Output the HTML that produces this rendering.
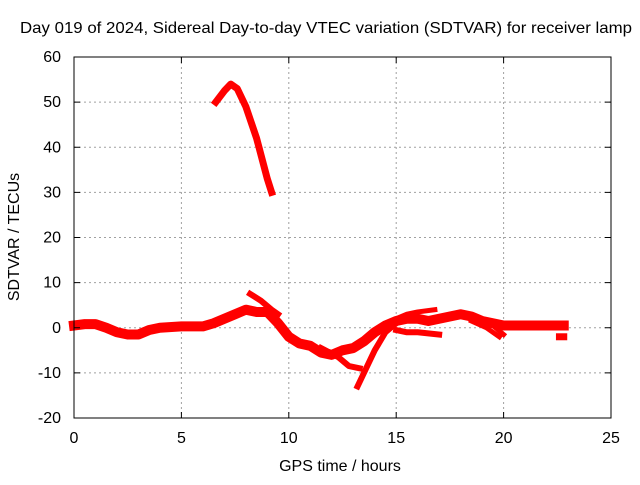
<!DOCTYPE html>
<html><head><meta charset="utf-8"><style>
body{margin:0;background:#fff;}
svg text{font-family:"Liberation Sans",sans-serif;font-size:16px;fill:#000;}
</style></head><body>
<svg id="chart" width="640" height="480" viewBox="0 0 640 480">
<rect width="640" height="480" fill="#fff"/>
<text x="20" y="33" textLength="612" lengthAdjust="spacingAndGlyphs">Day 019 of 2024, Sidereal Day-to-day VTEC variation (SDTVAR) for receiver lamp</text>
<g id="grid"></g>
<g id="series"></g>
<rect x="74" y="57" width="537" height="361" fill="none" stroke="#000" stroke-width="1"/>
<g id="ticks"></g>
<text x="340" y="471" text-anchor="middle">GPS time / hours</text>
<text transform="translate(19,237) rotate(-90)" text-anchor="middle">SDTVAR / TECUs</text>
</svg>
<script>
const xTicks=[0,5,10,15,20,25];
const yTicks=[-20,-10,0,10,20,30,40,50,60];
const mainT=[0,0.5,1,1.5,2,2.5,3,3.5,4,5,6,6.5,7,7.5,8,8.5,9,9.5,10,10.5,11,11.5,12,12.5,13,13.5,14,14.5,15,15.5,16,16.5,17,17.5,18,18.5,19,19.5,20,21,22,22.8];
const mainV=[0.5,0.8,0.8,0,-1,-1.5,-1.5,-0.5,0,0.3,0.3,1,2,3,4,3.5,3.5,1,-2,-3.5,-4,-5.5,-6,-5,-4.5,-3,-1,0.5,1.5,2,2,1.5,2,2.5,3,2.5,1.5,1,0.5,0.5,0.5,0.5];
const arcT=[6.6,7,7.3,7.6,8,8.5,9,9.2];
const arcV=[50,52.5,54,53,49,42,33,30];
const spikeT=[8.2,8.7,9.2,9.5];
const spikeV=[7.5,6,4,3];
const loopT=[11.5,12.3,12.8,13.3];
const loopV=[-4.5,-6.5,-8.5,-9];
const riseT=[13.2,13.5,14,14.5,15];
const riseV=[-13,-10,-5,-1,1];
const branchT=[15,15.5,16,16.8];
const branchV=[2,3,3.5,4];
const lowT=[15,15.5,16,17];
const lowV=[-0.5,-1,-1,-1.5];
const dropT=[18.5,19.2,19.8];
const dropV=[1.5,0,-2];
const dropT2=[19.5,20];
const dropV2=[0.5,-1.5];
const dotT=[22.6,22.8];
const dotV=[-2,-2];
const X=t=>74+t*537/25, Y=v=>327.75-v*361/80;
const NS='http://www.w3.org/2000/svg';
const grid=document.getElementById('grid'),ticks=document.getElementById('ticks'),ser=document.getElementById('series');
function mk(tag,a,p){const e=document.createElementNS(NS,tag);for(const k in a)e.setAttribute(k,a[k]);p.appendChild(e);return e;}
xTicks.forEach(t=>{const x=X(t);
 if(t>0&&t<25){const g=mk('line',{x1:x,x2:x,y1:57,y2:418,stroke:'#a0a0a0','stroke-dasharray':'2,3'},grid);}
 mk('line',{x1:x,x2:x,y1:418,y2:412,stroke:'#000'},ticks);mk('line',{x1:x,x2:x,y1:57,y2:63,stroke:'#000'},ticks);
 const l=mk('text',{x:x,y:443,'text-anchor':'middle'},ticks);l.textContent=t;});
yTicks.forEach(v=>{const y=Y(v);
 if(v>-20&&v<60){const g=mk('line',{x1:74,x2:611,y1:y,y2:y,stroke:'#a0a0a0','stroke-dasharray':'2,3'},grid);}
 mk('line',{x1:74,x2:80,y1:y,y2:y,stroke:'#000'},ticks);mk('line',{x1:605,x2:611,y1:y,y2:y,stroke:'#000'},ticks);
 const l=mk('text',{x:61,y:y+5,'text-anchor':'end'},ticks);l.textContent=v;});
function line(T,V,w,name){const p=T.map((t,i)=>X(t)+','+Y(V[i])).join(' ');
 const e=mk('polyline',{points:p,fill:'none',stroke:'#ff0000','stroke-width':w,'stroke-linejoin':'round','stroke-linecap':'square'},ser);
 }
line(mainT,mainV,10,'sdtvar-main-band');
line(arcT,arcV,7,'sdtvar-high-arc');
line(spikeT,spikeV,6,'sdtvar-spike');
line(loopT,loopV,6,'sdtvar-lower-loop');
line(riseT,riseV,6,'sdtvar-rise');
line(branchT,branchV,5,'sdtvar-branch');
line(lowT,lowV,6,'sdtvar-low-branch');
line(dropT,dropV,5,'sdtvar-drop');
line(dropT2,dropV2,5,'sdtvar-drop-2');
line(dotT,dotV,7,'sdtvar-end-dot');
</script>
</body></html>
